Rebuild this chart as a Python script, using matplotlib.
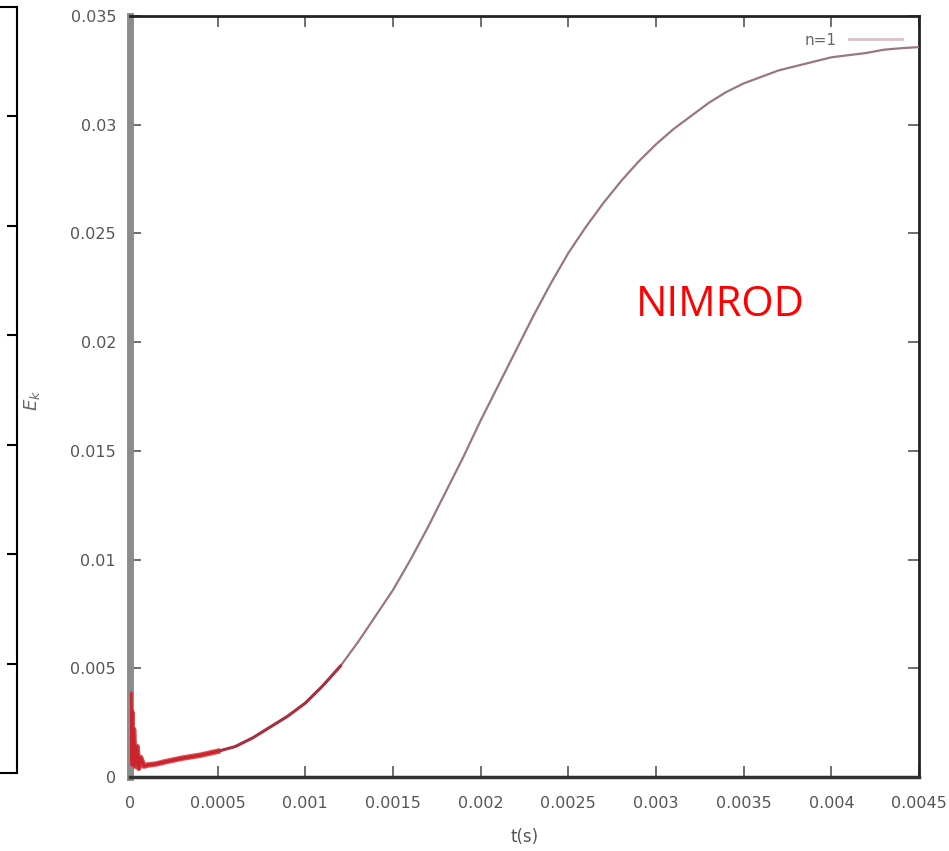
import matplotlib.pyplot as plt
from matplotlib.ticker import FixedLocator

# energy history
t_s = [0, 0.000005, 0.00001, 0.000015, 0.00002, 0.00003, 0.00004, 0.00005,
       0.00006, 0.00008, 0.0001, 0.00015, 0.0002, 0.0003, 0.0004, 0.0005,
       0.0006, 0.0007, 0.0008, 0.0009, 0.001, 0.0011, 0.0012, 0.0013,
       0.0014, 0.0015, 0.0016, 0.0017, 0.0018, 0.0019, 0.002, 0.0021,
       0.0022, 0.0023, 0.0024, 0.0025, 0.0026, 0.0027, 0.0028, 0.0029,
       0.003, 0.0031, 0.0032, 0.0033, 0.0034, 0.0035, 0.0036, 0.0037,
       0.0038, 0.0039, 0.004, 0.0041, 0.0042, 0.0043, 0.0044, 0.0045]
e_k = [0.0038, 0.0008, 0.0030, 0.0006, 0.0022, 0.0005, 0.0014, 0.0004,
       0.0009, 0.0005, 0.00055, 0.0006, 0.0007, 0.00087, 0.001, 0.00118,
       0.0014, 0.0018, 0.0023, 0.0028, 0.0034, 0.0042, 0.0051, 0.0062,
       0.0074, 0.0086, 0.0100, 0.0115, 0.0131, 0.0147, 0.0164, 0.0180,
       0.0196, 0.0212, 0.0227, 0.0241, 0.0253, 0.0264, 0.0274, 0.0283,
       0.0291, 0.0298, 0.0304, 0.0310, 0.0315, 0.0319, 0.0322, 0.0325,
       0.0327, 0.0329, 0.0331, 0.0332, 0.0333, 0.03345, 0.03352, 0.03357]

x_ticks = [0, 0.0005, 0.001, 0.0015, 0.002, 0.0025, 0.003, 0.0035, 0.004, 0.0045]
x_labels = ["0", "0.0005", "0.001", "0.0015", "0.002", "0.0025", "0.003",
            "0.0035", "0.004", "0.0045"]
y_ticks = [0, 0.005, 0.01, 0.015, 0.02, 0.025, 0.03, 0.035]
y_labels = ["0", "0.005", "0.01", "0.015", "0.02", "0.025", "0.03", "0.035"]

W, H = 949, 851
fig = plt.figure(figsize=(W / 100, H / 100), dpi=100)

# fragment of the neighbouring panel on the far left
axl = fig.add_axes([-0.05, 1 - 773 / H, 0.05 + 17 / W, (773 - 7) / H])
axl.set_xlim(0, 1)
axl.set_ylim(0, 7)
axl.spines["left"].set_visible(False)
for s in ["right", "top", "bottom"]:
    axl.spines[s].set_linewidth(1.5)
axl.set_xticks([])
axl.yaxis.tick_right()
axl.yaxis.set_major_locator(FixedLocator([1, 2, 3, 4, 5, 6]))
axl.tick_params(axis="y", direction="in", length=7, width=1.5, labelright=False)

ax = fig.add_axes([130 / W, 1 - 777 / H, 789 / W, 761 / H])

sel = [i for i, t in enumerate(t_s) if t <= 0.0012]
early = [i for i, t in enumerate(t_s) if t <= 0.0005]

ax.plot(t_s, e_k, color="#9a7680", lw=1.6, label="n=1", zorder=3)
ax.plot([t_s[i] for i in sel], [e_k[i] for i in sel], color="#a8303f", lw=2.2, zorder=4)
ax.plot([t_s[i] for i in early], [e_k[i] for i in early], color="#d42228",
        lw=4, alpha=0.8, zorder=5)

ax.set_xlim(0, 0.0045)
ax.set_ylim(0, 0.035)
ax.set_xticks(x_ticks)
ax.set_xticklabels(x_labels)
ax.set_yticks(y_ticks)
ax.set_yticklabels(y_labels)
ax.tick_params(direction="in", length=8, width=1.2, colors="#555555",
               labelsize=11.5, top=True, right=True)
ax.tick_params(axis="x", pad=14)
ax.tick_params(axis="y", pad=10)

ax.spines["left"].set_color("#8c8c8c")
ax.spines["left"].set_linewidth(5)
for s in ["top", "right"]:
    ax.spines[s].set_color("#222222")
    ax.spines[s].set_linewidth(2)
ax.spines["bottom"].set_color("#333333")
ax.spines["bottom"].set_linewidth(2.5)

ax.set_xlabel("t(s)", fontsize=12, color="#555555", labelpad=12)
fig.text(32 / W, 1 - 400 / H, "$E_k$", rotation=90, fontsize=13,
         color="#666666", ha="center", va="center")

ax.text(0.748, 0.62, "NIMROD", transform=ax.transAxes, color="red",
        fontsize=30, family="Open Sans", ha="center", va="center")

leg = ax.legend(loc="upper right", frameon=False, markerfirst=False,
                handlelength=3.5, fontsize=11, borderaxespad=0.7)
leg.get_lines()[0].set_color("#d8c2c8")
leg.get_lines()[0].set_linewidth(2)
leg.get_texts()[0].set_color("#666666")

fig.savefig("out.png", dpi=100)
